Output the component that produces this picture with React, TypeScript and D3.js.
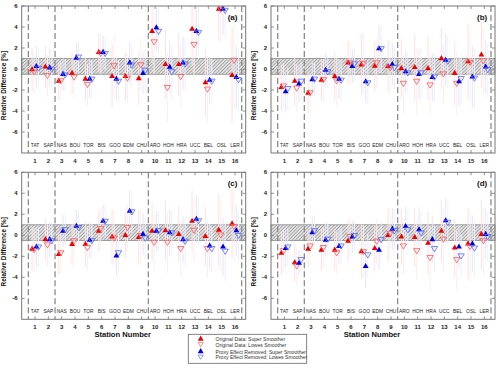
import React from "react";
import * as d3 from "d3";

// station codes and numbers
const stations = ["TAT", "SAP", "NAS", "BOU", "TOR", "BIS", "GOO", "EDM", "CHU", "ARO", "HOH", "HRA", "UCC", "BEL", "OSL", "LER"];
const stationNumbers = [1, 2, 3, 4, 5, 6, 7, 8, 9, 10, 11, 12, 13, 14, 15, 16];
const yTicks = [-6, -4, -2, 0, 2, 4, 6];
const groupBreaks = [0.5, 2.5, 9.5, 16.5];

// panel (a)
const origSuperA = [-0.05, 0.2, -1.15, -0.4, -0.95, 1.6, -0.7, -0.7, -0.9, 3.6, 0.45, 0.45, 3.8, -1.3, 5.7, -0.6];
const origLowesA = [-0.3, -0.65, -1.15, -0.8, -1.5, 1.45, 0.28, -0.9, 0.37, 2.55, -1.8, -0.75, 2.3, -1.95, 5.65, 0.8];
const proxySuperA = [0.25, 0.12, -0.5, 1.05, -0.95, 1.6, -0.95, 0.6, -0.4, 3.95, 0.18, 0.58, 3.6, -1.05, 5.7, -0.8];
const proxyLowesA = [0.05, -0.05, -0.6, 1.1, -1.0, 1.45, -1.2, 0.35, -0.15, 3.55, -0.3, 0.45, 3.45, -1.2, 5.55, -1.05];
const errOrigA = [2.1, 2.0, 1.8, 2.0, 2.0, 1.9, 3.0, 2.3, 2.5, 3.0, 3.3, 3.0, 3.5, 3.2, 3.0, 4.5];
const errProxyA = [2.0, 1.8, 1.5, 1.5, 1.8, 1.6, 2.0, 2.0, 2.0, 2.2, 2.5, 2.5, 2.5, 2.2, 2.5, 3.0];

// panel (b)
const origSuperB = [-1.75, -1.15, -2.3, -1.05, -0.7, 0.6, 0.4, 0.28, 0.25, 0.05, 0.15, 0.05, 1.0, -0.4, 0.7, 1.35];
const origLowesB = [-1.65, -1.85, -2.3, -1.05, -1.15, 0.55, 0.5, 0.55, 0.1, -1.4, -1.2, -1.55, -0.5, -1.4, 0.6, 0.75];
const proxySuperB = [-2.15, -1.4, -1.0, -0.1, -0.95, 0.25, -1.2, 1.95, 0.45, -0.25, -0.5, -0.8, 0.85, -1.2, -0.75, 0.2];
const proxyLowesB = [-1.9, -1.2, -1.0, -0.3, -1.1, 0.45, -1.35, 1.9, 0.1, -0.4, -0.4, -0.8, 0.7, -0.95, -0.9, -0.1];
const errOrigB = [2.2, 2.3, 1.9, 2.0, 2.3, 2.1, 2.9, 2.4, 2.5, 2.8, 3.2, 3.0, 2.9, 3.0, 3.6, 3.2];
const errProxyB = [2.0, 1.8, 1.6, 1.6, 1.9, 1.6, 2.0, 2.3, 2.0, 2.0, 2.4, 2.3, 2.5, 2.3, 2.9, 2.6];

// panel (c)
const origSuperC = [-1.3, -0.4, -1.8, -0.85, -0.85, 0.4, -0.15, 0.0, -0.2, 0.4, 0.45, 0.1, 1.35, -0.1, 0.5, 1.1];
const origLowesC = [-1.4, -0.95, -1.7, -0.55, -1.2, 0.6, -0.3, 0.7, -0.05, -0.7, -0.7, -1.3, 0.45, -1.3, 0.0, 0.8];
const proxySuperC = [-1.1, -0.4, 0.4, 0.88, -0.45, 1.35, -1.95, 2.3, 0.1, 0.4, 0.25, -0.4, 1.55, -1.0, -1.1, 0.45];
const proxyLowesC = [-1.15, -0.55, 0.5, 0.7, -0.55, 1.3, -1.7, 2.2, -0.3, 0.4, 0.2, -0.6, 1.35, -1.3, -1.55, -0.05];
const errOrigC = [2.1, 2.0, 1.9, 2.0, 2.1, 2.0, 2.6, 2.2, 2.6, 2.7, 2.9, 2.7, 2.9, 2.8, 3.4, 3.3];
const errProxyC = [1.9, 1.7, 1.5, 1.6, 1.7, 1.5, 1.9, 2.0, 2.0, 1.9, 2.2, 2.2, 2.3, 2.1, 2.8, 2.4];

// panel (d)
const origSuperD = [-1.7, -2.6, -1.3, -1.4, -1.4, -0.55, -1.55, -1.25, 0.0, -0.15, -0.2, -0.75, 0.4, -1.2, -0.8, 0.1];
const origLowesD = [-1.5, -2.95, -1.05, -1.2, -1.7, -0.15, -1.6, -0.6, 0.15, -1.05, -1.5, -2.15, -0.4, -2.35, -1.1, -0.55];
const proxySuperD = [-1.25, -2.65, 0.25, -0.45, -1.05, -0.15, -2.95, -1.4, 0.6, 0.85, 0.55, -0.4, 1.4, -1.1, -0.8, 0.1];
const proxyLowesD = [-1.15, -2.35, 0.4, -0.4, -1.05, -0.05, -1.9, -0.45, 0.4, 0.5, 0.2, -1.3, 1.2, -2.0, -1.25, -0.15];
const errOrigD = [2.1, 1.8, 1.8, 1.9, 2.0, 2.0, 2.6, 2.2, 2.5, 2.7, 2.8, 3.0, 3.0, 2.8, 3.4, 3.3];
const errProxyD = [1.8, 1.2, 1.5, 1.6, 1.7, 1.5, 2.1, 1.9, 2.0, 1.9, 2.1, 2.2, 2.1, 2.1, 2.7, 2.4];

const FONT = "Liberation Sans, Arial, sans-serif";
const RED = "#ee0000";
const BLUE = "#0000dd";
const RED_OPEN = "#ff5555";
const BLUE_OPEN = "#5566ff";

const W = 224;
const H = 147;

const upTri = d3.symbol().type(d3.symbolTriangle).size(15)();
const downTri = "M-3.2,-2.4L3.2,-2.4L0,2.8Z";

type PanelProps = {
  left: number;
  top: number;
  tag: string;
  oSS: number[];
  oLW: number[];
  pSS: number[];
  pLW: number[];
  eO: number[];
  eP: number[];
  showXTitle: boolean;
};

const Panel = ({ left, top, tag, oSS, oLW, pSS, pLW, eO, eP, showXTitle }: PanelProps) => {
  const x = d3.scaleLinear().domain([0, 16.8]).range([0, W]);
  const y = d3.scaleLinear().domain([-8, 6]).range([H, 0]);

  const series = [
    { vals: oSS, err: eO, dx: -0.22, bar: "#fde2e2" },
    { vals: oLW, err: eO, dx: -0.07, bar: "#feeeee" },
    { vals: pSS, err: eP, dx: 0.1, bar: "#e3e5fc" },
    { vals: pLW, err: eP, dx: 0.26, bar: "#eeeffd" },
  ];

  return (
    <g transform={`translate(${left},${top})`}>
      <rect x={0} y={0} width={W} height={H} fill="#fff" />
      {/* hatched band */}
      <rect x={0} y={y(1)} width={W} height={y(-0.5) - y(1)} fill="url(#hatch)" stroke="#8a8a8a" strokeWidth={0.8} />
      {/* error bars */}
      {series.map((s, si) =>
        s.vals.map((v, i) => (
          <line
            key={`e${si}-${i}`}
            x1={x(i + 1 + s.dx)}
            x2={x(i + 1 + s.dx)}
            y1={y(Math.min(6, v + s.err[i]))}
            y2={y(Math.max(-8, v - s.err[i]))}
            stroke={s.bar}
            strokeWidth={1}
          />
        ))
      )}
      {/* group separators */}
      {groupBreaks.map((b) => (
        <line key={b} x1={x(b)} x2={x(b)} y1={0} y2={H} stroke="#8c8c8c" strokeWidth={1.3} strokeDasharray="6,3" />
      ))}
      {/* markers */}
      {oSS.map((v, i) => (
        <path key={`a${i}`} d={upTri} transform={`translate(${x(i + 1 - 0.22)},${y(v)})`} fill={RED} />
      ))}
      {oLW.map((v, i) => (
        <path key={`b${i}`} d={downTri} transform={`translate(${x(i + 1 - 0.07)},${y(v)})`} fill="none" stroke={RED_OPEN} strokeWidth={0.8} />
      ))}
      {pSS.map((v, i) => (
        <path key={`c${i}`} d={upTri} transform={`translate(${x(i + 1 + 0.1)},${y(v)})`} fill={BLUE} />
      ))}
      {pLW.map((v, i) => (
        <path key={`d${i}`} d={downTri} transform={`translate(${x(i + 1 + 0.26)},${y(v)})`} fill="none" stroke={BLUE_OPEN} strokeWidth={0.8} />
      ))}
      {/* station codes */}
      {stations.map((s, i) => (
        <text key={s} x={x(i + 1)} y={H - 6} fontSize={4.9} textAnchor="middle" fill="#222" fontFamily={FONT}>
          {s}
        </text>
      ))}
      {/* frame and ticks */}
      <rect x={0} y={0} width={W} height={H} fill="none" stroke="#777" strokeWidth={1} />
      {stationNumbers.map((n) => (
        <g key={n}>
          <line x1={x(n)} x2={x(n)} y1={H} y2={H - 3} stroke="#777" strokeWidth={0.8} />
          <line x1={x(n)} x2={x(n)} y1={0} y2={3} stroke="#777" strokeWidth={0.8} />
          <text x={x(n)} y={H + 10} fontSize={6} fontWeight="bold" textAnchor="middle" fill="#222" fontFamily={FONT}>
            {n}
          </text>
        </g>
      ))}
      {yTicks.map((t) => (
        <g key={t}>
          <line x1={0} x2={3} y1={y(t)} y2={y(t)} stroke="#777" strokeWidth={0.8} />
          <line x1={W} x2={W - 3} y1={y(t)} y2={y(t)} stroke="#777" strokeWidth={0.8} />
          <text x={-4} y={y(t) + 2} fontSize={6} fontWeight="bold" textAnchor="end" fill="#222" fontFamily={FONT}>
            {t}
          </text>
        </g>
      ))}
      <text x={206} y={14} fontSize={8} fontWeight="bold" fill="#111" fontFamily={FONT}>
        {tag}
      </text>
      <text
        transform={`translate(-15.5,${H / 2 + 6}) rotate(-90)`}
        fontSize={6.4}
        fontWeight="bold"
        textAnchor="middle"
        fill="#111"
        fontFamily={FONT}
      >
        Relative Difference [%]
      </text>
      {showXTitle && (
        <text x={101} y={H + 18} fontSize={7.6} fontWeight="bold" textAnchor="middle" fill="#111" fontFamily={FONT}>
          Station Number
        </text>
      )}
    </g>
  );
};

const legendItems = [
  { label: "Original Data: Super Smoother", shape: "up", color: RED },
  { label: "Original Data: Lowes Smoother", shape: "down", color: RED_OPEN },
  { label: "Proxy Effect Removed: Super Smoother", shape: "up", color: BLUE },
  { label: "Proxy Effect Removed: Lowes Smoother", shape: "down", color: BLUE_OPEN },
];
const legendRows = [339.5, 345, 352, 357.6];

export default function App() {
  return (
    <svg width={500} height={368} style={{ position: "absolute", left: 0, top: 0, background: "#fff" }}>
      <defs>
        <pattern id="hatch" width={2.4} height={2.4} patternUnits="userSpaceOnUse" patternTransform="rotate(45)">
          <rect width={2.4} height={2.4} fill="#e2e2e2" />
          <line x1={0} y1={0} x2={0} y2={2.4} stroke="#777" strokeWidth={1} />
        </pattern>
      </defs>
      <Panel left={21.7} top={6} tag="(a)" oSS={origSuperA} oLW={origLowesA} pSS={proxySuperA} pLW={proxyLowesA} eO={errOrigA} eP={errProxyA} showXTitle={false} />
      <Panel left={271} top={6} tag="(b)" oSS={origSuperB} oLW={origLowesB} pSS={proxySuperB} pLW={proxyLowesB} eO={errOrigB} eP={errProxyB} showXTitle={false} />
      <Panel left={21.7} top={172.3} tag="(c)" oSS={origSuperC} oLW={origLowesC} pSS={proxySuperC} pLW={proxyLowesC} eO={errOrigC} eP={errProxyC} showXTitle={true} />
      <Panel left={271} top={172.3} tag="(d)" oSS={origSuperD} oLW={origLowesD} pSS={proxySuperD} pLW={proxyLowesD} eO={errOrigD} eP={errProxyD} showXTitle={true} />
      <g>
        <rect x={188.3} y={334.3} width={118.4} height={29} fill="#fff" stroke="#666" strokeWidth={0.8} />
        {legendItems.map((it, i) => (
          <g key={it.label}>
            {it.shape === "up" ? (
              <path d={upTri} transform={`translate(200.7,${legendRows[i] - 0.5})`} fill={it.color} />
            ) : (
              <path d={downTri} transform={`translate(200.7,${legendRows[i] - 0.5}) scale(0.8)`} fill="none" stroke={it.color} strokeWidth={0.8} />
            )}
            <text x={215.5} y={legendRows[i] + 1.8} fontSize={5.1} fill="#333" fontFamily={FONT}>
              {it.label}
            </text>
          </g>
        ))}
      </g>
    </svg>
  );
}
